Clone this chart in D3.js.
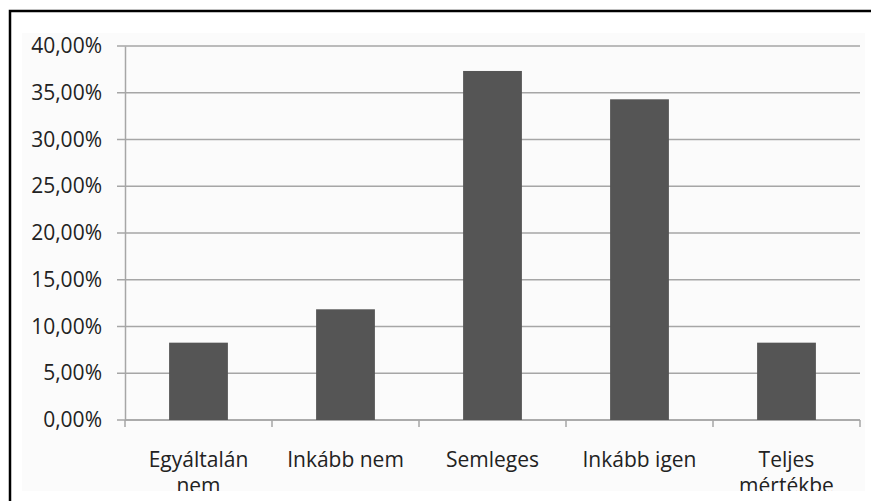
<!DOCTYPE html>
<html lang="hu">

<head>
    <meta charset="UTF-8">
    <script src="https://d3js.org/d3.v7.min.js"></script>
    <title>Chart</title>
    <style>
        body { margin: 0; background: #fff; }
        svg { display: block; }
    </style>
</head>

<body>
    <div id="my_chart"></div>
    <script>
        // data
        var categories = ["Egyáltalán nem", "Inkább nem", "Semleges", "Inkább igen", "Teljes mértékbe"];
        var values = [8.27, 11.84, 37.33, 34.3, 8.27];
        var yTicks = [0, 5, 10, 15, 20, 25, 30, 35, 40];

        var W = 871, H = 501;
        var margin = { top: 46, right: 11, bottom: 81, left: 125 },
            width = W - margin.left - margin.right,
            height = H - margin.top - margin.bottom;

        var root = d3.select("#my_chart")
            .append("svg")
            .attr("width", W)
            .attr("height", H);

        root.append("defs").append("clipPath")
            .attr("id", "clip")
            .append("rect")
            .attr("x", 0).attr("y", 0)
            .attr("width", W).attr("height", 491);

        var frame = root.append("g").attr("clip-path", "url(#clip)");

        // faint chart area
        frame.append("rect")
            .attr("x", 22).attr("y", 33)
            .attr("width", 843).attr("height", 470)
            .attr("fill", "#fbfbfb");

        // outer border (left + top)
        root.append("path")
            .attr("d", "M10," + H + " V11 H" + W)
            .attr("fill", "none")
            .attr("stroke", "#000")
            .attr("stroke-width", 2.5);

        var svg = frame.append("g")
            .attr("transform", "translate(" + margin.left + "," + margin.top + ")");

        var x = d3.scaleBand()
            .domain(categories)
            .range([0, width])
            .paddingInner(0.6)
            .paddingOuter(0.3);

        var y = d3.scaleLinear()
            .domain([0, 40])
            .range([height, 0]);

        // gridlines
        svg.append("g")
            .selectAll("line")
            .data(yTicks)
            .enter()
            .append("line")
            .attr("x1", -8)
            .attr("x2", width)
            .attr("y1", function (d) { return y(d); })
            .attr("y2", function (d) { return y(d); })
            .attr("stroke", "#a6a6a6")
            .attr("stroke-width", 1.5);

        // Y axis
        var yAxis = svg.append("g")
            .call(d3.axisLeft(y)
                .tickValues(yTicks)
                .tickSize(0)
                .tickPadding(23)
                .tickFormat(function (d) { return d3.format(".2f")(d).replace(".", ",") + "%"; }));
        yAxis.select(".domain").attr("stroke", "#a6a6a6").attr("stroke-width", 1.5);
        yAxis.selectAll("text")
            .attr("font-family", "'Open Sans', sans-serif")
            .attr("font-size", 21)
            .attr("fill", "#222");

        // X axis
        var step = x.step();
        var xAxis = svg.append("g")
            .attr("transform", "translate(0," + height + ")");
        xAxis.append("line")
            .attr("x1", 0).attr("x2", width)
            .attr("stroke", "#a6a6a6").attr("stroke-width", 1.5);
        xAxis.selectAll(".tk")
            .data(d3.range(categories.length + 1))
            .enter()
            .append("line")
            .attr("class", "tk")
            .attr("x1", function (i) { return i * step; })
            .attr("x2", function (i) { return i * step; })
            .attr("y1", 0).attr("y2", 7)
            .attr("stroke", "#a6a6a6").attr("stroke-width", 1.5);

        var labels = xAxis.selectAll(".lbl")
            .data(categories)
            .enter()
            .append("text")
            .attr("class", "lbl")
            .attr("text-anchor", "middle")
            .attr("font-family", "'Open Sans', sans-serif")
            .attr("font-size", 21)
            .attr("fill", "#222")
            .attr("x", function (d) { return x(d) + x.bandwidth() / 2; });
        labels.each(function (d) {
            var parts = d === "Inkább nem" || d === "Inkább igen" ? [d] : d.split(" ");
            var t = d3.select(this);
            parts.forEach(function (p, i) {
                t.append("tspan")
                    .attr("x", x(d) + x.bandwidth() / 2)
                    .attr("y", 47 + i * 26)
                    .text(p);
            });
        });

        // bars
        svg.selectAll("rect.bar")
            .data(values)
            .enter()
            .append("rect")
            .attr("class", "bar")
            .attr("x", function (d, i) { return x(categories[i]); })
            .attr("y", function (d) { return y(d); })
            .attr("width", x.bandwidth())
            .attr("height", function (d) { return height - y(d); })
            .attr("fill", "#555555");
    </script>
</body>

</html>
